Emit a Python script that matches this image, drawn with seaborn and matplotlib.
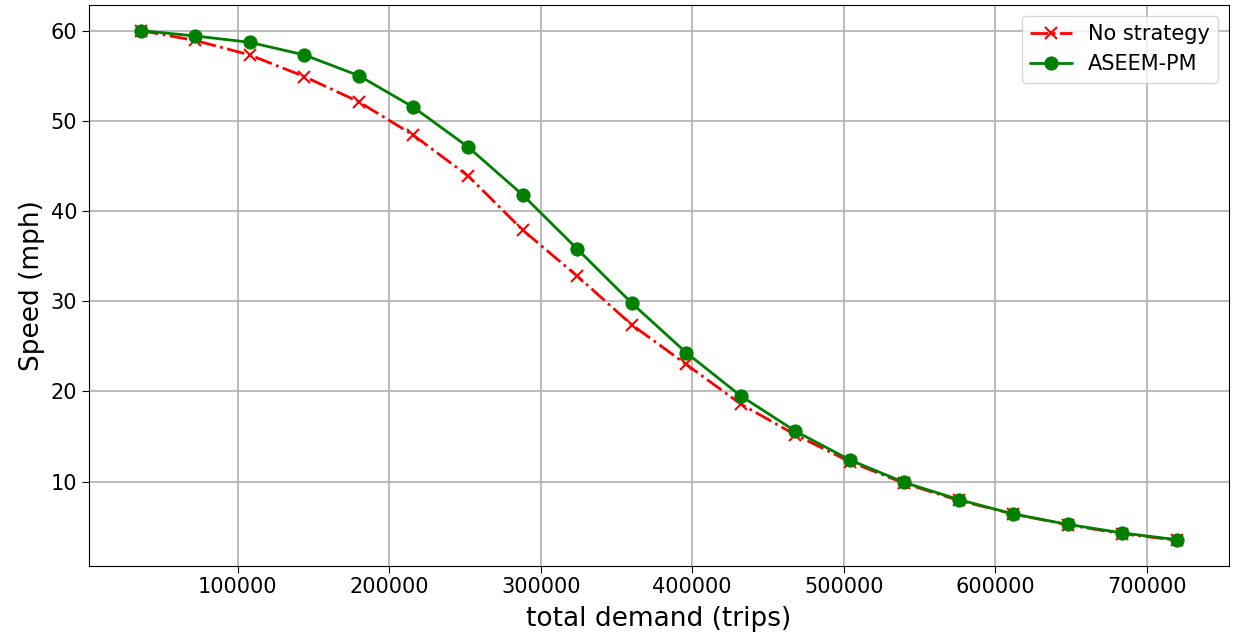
import numpy as np
import pandas as pd
import matplotlib
matplotlib.use("Agg")
import matplotlib.pyplot as plt
import seaborn as sns

demand = [36000, 72000, 108000, 144000, 180000, 216000, 252000, 288000, 324000, 360000,
          396000, 432000, 468000, 504000, 540000, 576000, 612000, 648000, 684000, 720000]
speed_none = [60.0, 58.9, 57.3, 54.9, 52.1, 48.4, 43.9, 37.9, 32.8, 27.4,
              23.0, 18.6, 15.2, 12.2, 9.8, 7.9, 6.4, 5.2, 4.2, 3.5]
speed_aseem = [60.0, 59.4, 58.7, 57.3, 55.0, 51.5, 47.1, 41.8, 35.8, 29.8,
               24.3, 19.5, 15.6, 12.4, 9.9, 8.0, 6.4, 5.25, 4.3, 3.55]

sns.set_style("ticks")
plt.rcParams["font.family"] = ["DejaVu Sans"]
plt.rcParams.update({
    "text.color": "black",
    "axes.labelcolor": "black",
    "axes.edgecolor": "black",
    "xtick.color": "black",
    "ytick.color": "black",
})

fig, ax = plt.subplots(figsize=(12.35, 6.37), dpi=100)

df_none = pd.DataFrame({"demand": demand, "speed": speed_none})
df_aseem = pd.DataFrame({"demand": demand, "speed": speed_aseem})

sns.lineplot(data=df_none, x="demand", y="speed", ax=ax, color="red",
             linestyle="-.", marker="x", markersize=9, markeredgewidth=1.5,
             markeredgecolor="red", linewidth=2, label="No strategy")
sns.lineplot(data=df_aseem, x="demand", y="speed", ax=ax, color="green",
             linestyle="-", marker="o", markersize=9.5, markeredgecolor="green",
             linewidth=2, label="ASEEM-PM")

ax.grid(True, color="#b0b0b0", linewidth=1.2)
ax.set_axisbelow(True)
ax.set_xlabel("total demand (trips)", fontsize=19, labelpad=6)
ax.set_ylabel("Speed (mph)", fontsize=19)
ax.tick_params(labelsize=15, length=5)
ax.ticklabel_format(axis="x", style="plain")
ax.legend(loc="upper right", fontsize=15)

fig.subplots_adjust(left=0.072, right=0.995, top=0.992, bottom=0.112)
fig.savefig("out.png", dpi=100)
